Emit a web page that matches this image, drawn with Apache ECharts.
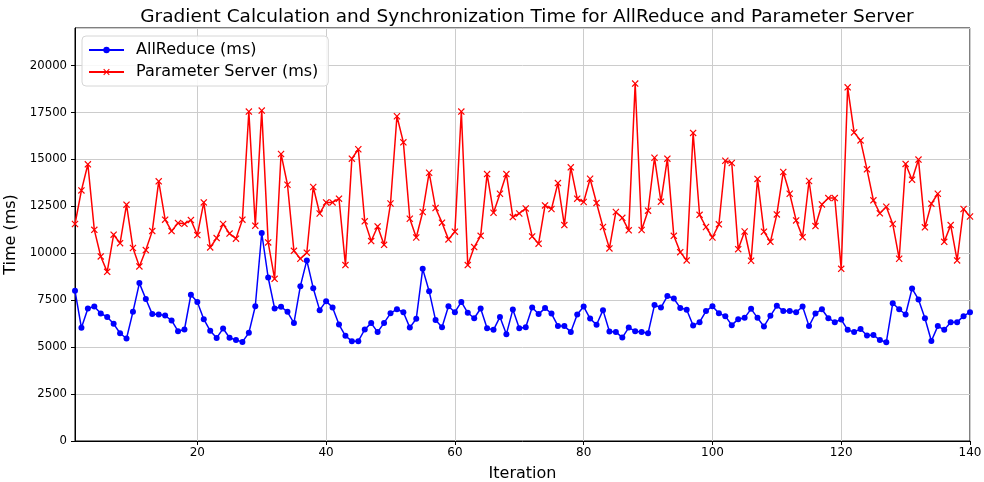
<!DOCTYPE html>
<html>
<head>
<meta charset="utf-8">
<script src="https://cdn.jsdelivr.net/npm/echarts@6/dist/echarts.min.js"></script>
<style>
  html, body { margin: 0; padding: 0; background: #fff; }
  #main { width: 984px; height: 482px; }
</style>
</head>
<body>
<div id="main"></div>
<script>
// iteration numbers 1..140
var iterations = [];
for (var n = 1; n <= 140; n++) iterations.push(String(n));

// AllReduce time per iteration (ms)
var allReduceMs = [
  8000, 6030, 7060, 7160, 6790, 6610, 6240, 5740, 5460, 6880,
  8410, 7560, 6760, 6740, 6680, 6420, 5850, 5940, 7790, 7400,
  6490, 5870, 5490, 5990, 5500, 5380, 5280, 5760, 7180, 11080,
  8710, 7060, 7150, 6880, 6280, 8250, 9620, 8140, 6970, 7450,
  7110, 6200, 5600, 5320, 5320, 5940, 6280, 5800, 6290, 6800,
  7020, 6860, 6040, 6510, 9170, 7980, 6440, 6060, 7180, 6860,
  7410, 6830, 6540, 7060, 6010, 5920, 6610, 5690, 7000, 6010,
  6060, 7110, 6760, 7080, 6790, 6130, 6120, 5810, 6740, 7160,
  6520, 6190, 6970, 5830, 5810, 5510, 6040, 5850, 5810, 5740,
  7240, 7110, 7720, 7590, 7090, 6990, 6150, 6330, 6920, 7180,
  6800, 6650, 6170, 6490, 6560, 7040, 6560, 6100, 6670, 7200,
  6930, 6920, 6860, 7160, 6120, 6790, 7020, 6540, 6330, 6470,
  5920, 5800, 5970, 5620, 5640, 5380, 5260, 7340, 7020, 6740,
  8120, 7540, 6540, 5330, 6120, 5920, 6330, 6330, 6650, 6860
];

// Parameter Server time per iteration (ms)
var paramServerMs = [
  11560, 13350, 14740, 11250, 9830, 9010, 10990, 10540, 12590, 10280,
  9300, 10170, 11180, 13830, 11790, 11180, 11610, 11570, 11770, 10970,
  12710, 10310, 10810, 11560, 11050, 10780, 11790, 17550, 11470, 17600,
  10580, 8640, 15290, 13650, 10130, 9710, 10030, 13530, 12120, 12710,
  12710, 12910, 9370, 15040, 15540, 11700, 10650, 11430, 10450, 12650,
  17300, 15910, 11840, 10840, 12200, 14290, 12410, 11630, 10740, 11150,
  17550, 9370, 10330, 10930, 14220, 12160, 13170, 14220, 11930, 12120,
  12390, 10900, 10510, 12550, 12360, 13740, 11500, 14580, 12910, 12730,
  13970, 12680, 11400, 10260, 12200, 11890, 11220, 19040, 11240, 12270,
  15090, 12750, 15040, 10930, 10060, 9620, 16410, 12050, 11400, 10840,
  11540, 14930, 14810, 10220, 11160, 9600, 13960, 11150, 10610, 12070,
  14330, 13170, 11750, 10860, 13850, 11450, 12600, 12940, 12940, 9170,
  18840, 16440, 16010, 14470, 12820, 12130, 12480, 11560, 9710, 14760,
  13920, 14990, 11380, 12640, 13170, 10610, 11500, 9620, 12360, 11960
];

var xMarker = 'path://M0,1.2L1.2,0L5,3.8L8.8,0L10,1.2L6.2,5L10,8.8L8.8,10L5,6.2L1.2,10L0,8.8L3.8,5Z';
var everyTwenty = function (idx, val) { return Number(val) % 20 === 0; };
var font = 'DejaVu Sans';

var chart = echarts.init(document.getElementById('main'));
chart.setOption({
  animation: false,
  backgroundColor: '#ffffff',
  title: {
    text: 'Gradient Calculation and Synchronization Time for AllReduce and Parameter Server',
    left: 522, top: 3, textAlign: 'center',
    textStyle: { fontFamily: font, fontSize: 18.5, fontWeight: 'normal', color: '#000' }
  },
  legend: {
    orient: 'vertical',
    left: 82, top: 36,
    padding: [6, 10, 6, 6],
    itemGap: 6,
    itemWidth: 35, itemHeight: 8,
    backgroundColor: 'rgba(255,255,255,0.85)',
    borderColor: '#d6d6d6', borderWidth: 1, borderRadius: 4,
    textStyle: { fontFamily: font, fontSize: 16, color: '#000', padding: [0, 0, 0, 7] },
    data: ['AllReduce (ms)', 'Parameter Server (ms)']
  },
  grid: {
    left: 75, right: 14, top: 28, bottom: 41,
    outerBoundsMode: 'none', containLabel: false,
    show: true, borderColor: '#000', borderWidth: 1
  },
  xAxis: {
    type: 'category',
    boundaryGap: false,
    data: iterations,
    name: 'Iteration', nameLocation: 'middle', nameGap: 25,
    nameTextStyle: { fontFamily: font, fontSize: 16, color: '#000' },
    axisLine: { lineStyle: { color: '#000' } },
    axisTick: { interval: everyTwenty, length: 4, lineStyle: { color: '#000' } },
    axisLabel: { interval: everyTwenty, fontFamily: font, fontSize: 12, color: '#000', margin: 6 },
    splitLine: { show: true, interval: everyTwenty, lineStyle: { color: '#cccccc', width: 1 } }
  },
  yAxis: {
    type: 'value',
    min: 0, max: 22000, interval: 2500,
    name: 'Time (ms)', nameLocation: 'middle', nameGap: 51,
    nameTextStyle: { fontFamily: font, fontSize: 16, color: '#000' },
    axisLine: { show: true, lineStyle: { color: '#000' } },
    axisTick: { show: true, length: 4, lineStyle: { color: '#000' } },
    axisLabel: {
      fontFamily: font, fontSize: 11.7, color: '#000', margin: 8,
      showMaxLabel: false,
      formatter: function (v) { return String(v); }
    },
    splitLine: { show: true, lineStyle: { color: '#cccccc', width: 1 } }
  },
  series: [
    {
      name: 'AllReduce (ms)',
      type: 'line',
      data: allReduceMs,
      symbol: 'circle', symbolSize: 6, showAllSymbol: true,
      lineStyle: { color: '#0000ff', width: 1.5 },
      itemStyle: { color: '#0000ff' }
    },
    {
      name: 'Parameter Server (ms)',
      type: 'line',
      data: paramServerMs,
      symbol: xMarker, symbolSize: 7, showAllSymbol: true,
      lineStyle: { color: '#ff0000', width: 1.5 },
      itemStyle: { color: '#ff0000' }
    }
  ]
});
</script>
</body>
</html>
